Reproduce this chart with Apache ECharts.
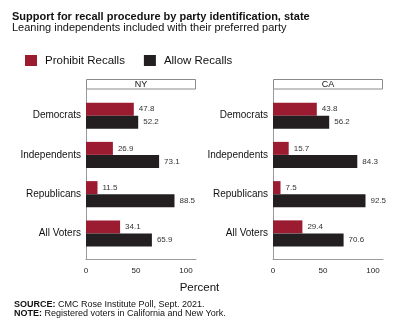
<!DOCTYPE html>
<html>
<head>
<meta charset="utf-8">
<script src="https://cdn.jsdelivr.net/npm/echarts@6/dist/echarts.min.js"></script>
<style>html,body{margin:0;padding:0;background:#fff;}#c{width:400px;height:332px;}</style>
</head>
<body>
<div id="c"></div>
<script>
const categories = ['Democrats', 'Independents', 'Republicans', 'All Voters'];
const states = ['NY', 'CA'];
const nyProhibit = [47.8, 26.9, 11.5, 34.1];
const nyAllow = [52.2, 73.1, 88.5, 65.9];
const caProhibit = [43.8, 15.7, 7.5, 29.4];
const caAllow = [56.2, 84.3, 92.5, 70.6];
const xTicks = [0, 50, 100];
const seriesNames = ['Prohibit Recalls', 'Allow Recalls'];

const FONT = '"Liberation Sans", Arial, Helvetica, sans-serif';
const RED = '#9b1b30';
const BLACK = '#231f20';
const panelLeft = [86, 273];
const panelW = 110;
const XMAX = 110;

const chart = echarts.init(document.getElementById('c'), null, {renderer: 'canvas'});

const grids = [], xAxes = [], yAxes = [], series = [];
const data = [[nyProhibit, nyAllow], [caProhibit, caAllow]];
panelLeft.forEach((L, p) => {
  grids.push({left: L, width: panelW, top: 89, height: 170});
  grids.push({left: L, width: panelW, top: 96, height: 157});
  const go = p * 2, gi = p * 2 + 1;
  xAxes.push({
    gridIndex: go, type: 'value', min: 0, max: XMAX, interval: 50,
    axisLine: {show: true, lineStyle: {color: '#9a9a9a', width: 1}},
    axisTick: {show: false}, splitLine: {show: false},
    axisLabel: {color: '#222', fontSize: 8, fontFamily: FONT, margin: 8,
      formatter: v => xTicks.indexOf(v) >= 0 ? String(v) : ''}
  });
  yAxes.push({
    gridIndex: go, type: 'value', min: 0, max: 1,
    axisLine: {show: true, lineStyle: {color: '#9a9a9a', width: 1}},
    axisTick: {show: false}, splitLine: {show: false}, axisLabel: {show: false}
  });
  xAxes.push({gridIndex: gi, type: 'value', min: 0, max: XMAX, show: false});
  yAxes.push({
    gridIndex: gi, type: 'category', data: categories, inverse: true,
    axisLine: {show: false}, axisTick: {show: false},
    axisLabel: {color: '#111', fontSize: 10, fontFamily: FONT, margin: 5}
  });
  [0, 1].forEach(s => {
    series.push({
      type: 'bar', name: seriesNames[s], xAxisIndex: gi, yAxisIndex: gi,
      data: data[p][s], barWidth: 13, barGap: '0%',
      itemStyle: {color: s === 0 ? RED : BLACK},
      label: {show: true, position: 'right', distance: 5, fontSize: 8, color: '#333', fontFamily: FONT,
        formatter: o => o.value.toFixed(1)},
      silent: true, animation: false
    });
  });
});

const graphic = [
  {type: 'text', left: 12, top: 11, style: {text: 'Support for recall procedure by party identification, state', font: 'bold 11px ' + FONT, fill: '#111'}},
  {type: 'text', left: 12, top: 22.5, style: {text: 'Leaning independents included with their preferred party', font: '11px ' + FONT, fill: '#111'}},
  {type: 'text', x: 199.5, y: 288, style: {text: 'Percent', font: '11.5px ' + FONT, fill: '#111', align: 'center', verticalAlign: 'middle'}},
  {type: 'text', x: 14, y: 305, style: {
    text: '{b|SOURCE:} CMC Rose Institute Poll, Sept. 2021.', font: '9px ' + FONT, fill: '#111', verticalAlign: 'middle',
    rich: {b: {fontWeight: 'bold', fontSize: 9, fontFamily: FONT, fill: '#111'}}}},
  {type: 'text', x: 14, y: 314, style: {
    text: '{b|NOTE:} Registered voters in California and New York.', font: '9px ' + FONT, fill: '#111', verticalAlign: 'middle',
    rich: {b: {fontWeight: 'bold', fontSize: 9, fontFamily: FONT, fill: '#111'}}}}
];
panelLeft.forEach((L, p) => {
  graphic.push({type: 'rect', shape: {x: L + 0.5, y: 79.5, width: panelW - 1, height: 9.5},
    style: {fill: '#fff', stroke: '#8a8a8a', lineWidth: 1}});
  graphic.push({type: 'text', x: L + panelW / 2, y: 84.5,
    style: {text: states[p], font: '9px ' + FONT, fill: '#111', align: 'center', verticalAlign: 'middle'}});
});

chart.setOption({
  animation: false,
  backgroundColor: '#fff',
  textStyle: {fontFamily: FONT},
  legend: {
    data: seriesNames, left: 20, top: 49.5, itemWidth: 12, itemHeight: 11, itemGap: 19,
    icon: 'rect', selectedMode: false,
    textStyle: {fontSize: 11.5, color: '#111', fontFamily: FONT, padding: [0, 0, 0, 3]}
  },
  grid: grids, xAxis: xAxes, yAxis: yAxes, series: series, graphic: graphic
});
</script>
</body>
</html>
